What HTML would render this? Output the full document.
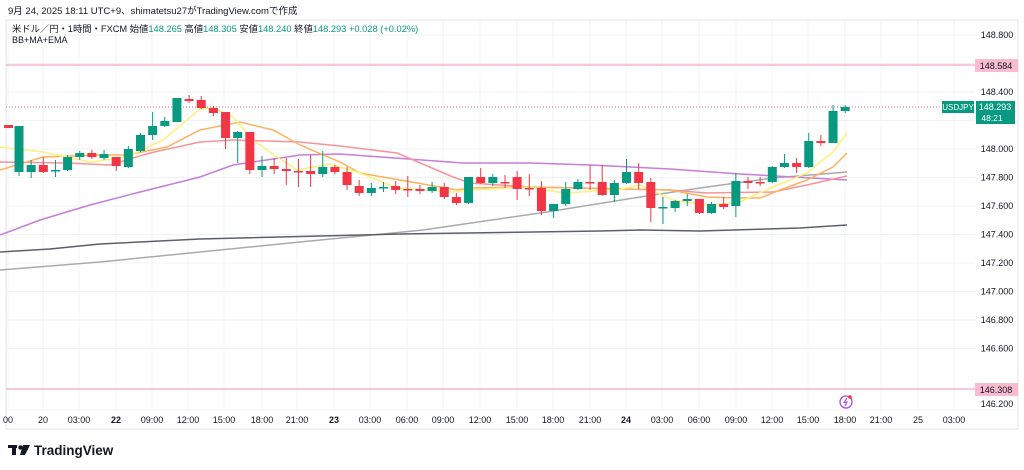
<!DOCTYPE html>
<html><head><meta charset="utf-8"><style>
body{margin:0;background:#fff;width:1024px;height:470px;overflow:hidden;font-family:"Liberation Sans","Noto Sans CJK JP",sans-serif}
svg{position:absolute;left:0;top:0}
</style></head><body>
<svg id="s" width="1024" height="470" xmlns="http://www.w3.org/2000/svg" font-family="Liberation Sans, Noto Sans CJK JP, sans-serif">
<rect x="6" y="20" width="1012" height="409" fill="none" stroke="#e6e6e6"/>
<g id="grid" stroke="#f0f3f6" stroke-width="1"></g>
<text x="8" y="14" font-size="9.5" fill="#131722">9月 24, 2025 18:11 UTC+9、shimatetsu27がTradingView.comで作成</text>
<text x="12" y="32" font-size="9.3" fill="#131722">米ドル／円・1時間・FXCM  始値<tspan fill="#089981">148.265</tspan>  高値<tspan fill="#089981">148.305</tspan>  安値<tspan fill="#089981">148.240</tspan>  終値<tspan fill="#089981">148.293</tspan>  <tspan fill="#089981">+0.028 (+0.02%)</tspan></text>
<text x="12" y="43" font-size="9" fill="#131722">BB+MA+EMA</text>
<line x1="6" y1="65" x2="975" y2="65" stroke="#f7a9bd" stroke-width="1.2"/>
<line x1="6" y1="389" x2="975" y2="389" stroke="#f7a9bd" stroke-width="1.2"/>
<line x1="6" y1="107" x2="975" y2="107" stroke="#c96b9a" stroke-width="1" stroke-dasharray="1,2"/>
<g id="lines" fill="none" stroke-width="1.5"></g>
<g id="candles"></g>
<g id="ylab" font-size="9" fill="#131722" text-anchor="middle"></g>
<rect x="975" y="59" width="43" height="13" fill="#f8bbd0"/>
<text x="996" y="69" font-size="9" text-anchor="middle" fill="#131722">148.584</text>
<rect x="975" y="383" width="43" height="13" fill="#f8bbd0"/>
<text x="996" y="393" font-size="9" text-anchor="middle" fill="#131722">146.308</text>
<rect x="942" y="101" width="32" height="12" fill="#089981"/>
<text x="958" y="110" font-size="8" text-anchor="middle" fill="#fff">USDJPY</text>
<rect x="976" y="101" width="39" height="23" fill="#089981"/>
<text x="995" y="110" font-size="9" text-anchor="middle" fill="#fff">148.293</text>
<text x="992" y="121" font-size="8.5" text-anchor="middle" fill="#fff">48:21</text>
<line x1="6" y1="410" x2="1018" y2="410" stroke="#f0f3f6"/>
<g id="xlab" font-size="9" fill="#131722" text-anchor="middle"></g>
<circle cx="846" cy="402" r="6" fill="none" stroke="#a64bd8" stroke-width="1.3"/>
<path d="M847 398 L844 402.5 L847 402 L845 406" fill="none" stroke="#a64bd8" stroke-width="1.1"/>
<circle cx="850" cy="397" r="1.8" fill="#f23645"/>
<g fill="#131722"><rect x="8" y="445" width="9" height="3"/><rect x="12" y="445" width="4" height="10"/><circle cx="20.5" cy="447.5" r="2.2"/><path d="M23 445 H30 L25 455 H20 Z"/></g>
<text x="34" y="455" font-size="13.5" font-weight="bold" fill="#131722">TradingView</text>
</svg>
<script>
const NS="http://www.w3.org/2000/svg";
function el(p,t,a,txt){const e=document.createElementNS(NS,t);for(const k in a)e.setAttribute(k,a[k]);if(txt!==undefined)e.textContent=txt;document.getElementById(p).appendChild(e);}
const xl=[[8,"00"],[43,"20"],[79,"03:00"],[116,"22"],[152,"09:00"],[188,"12:00"],[224,"15:00"],[262,"18:00"],[297,"21:00"],[334,"23"],[370,"03:00"],[407,"06:00"],[443,"09:00"],[480,"12:00"],[517,"15:00"],[553,"18:00"],[590,"21:00"],[626,"24"],[662,"03:00"],[699,"06:00"],[736,"09:00"],[772,"12:00"],[808,"15:00"],[845,"18:00"],[881,"21:00"],[918,"25"],[954,"03:00"]];
xl.forEach(([x,t])=>{el("grid","line",{x1:x,y1:20,x2:x,y2:410});el("xlab","text",{x:x,y:423,"font-weight":(["22","23","24"].includes(t)?"bold":"normal")},t);});
for(let i=0;i<12;i++){const p=148.8-i*0.2;const y=35+i*28.5;el("grid","line",{x1:6,y1:y,x2:975,y2:y});
 if(Math.abs(y-65)>8&&Math.abs(y-389)>8&&Math.abs(y-112)>12)el("ylab","text",{x:997,y:y+3},p.toFixed(3));}
el("ylab","text",{x:997,y:407},"146.200");
const L=[
["#aaaaaa",[[0,270],[100,262],[200,252],[300,242],[423,230],[547,212],[640,197],[707,187],[773,178],[847,172]]],
["#5d606b",[[0,252],[50,249],[100,244],[200,239],[400,234],[600,231],[640,230],[700,231],[800,228],[847,225]]],
["#c77ddb",[[0,235],[40,220],[90,205],[140,192],[200,177],[233,165],[300,155],[340,154],[463,163],[530,163],[590,165],[670,169],[740,174],[847,180]]],
["#f7949a",[[0,162],[67,163],[110,165],[150,153],[200,142],[233,140],[300,142],[340,146],[397,153],[453,177],[470,183],[530,187],[670,190],[707,193],[773,192],[807,185],[847,176]]],
["#ffb25e",[[0,170],[43,157],[100,155],[127,155],[167,147],[200,130],[240,122],[273,130],[300,145],[340,162],[360,173],[457,190],[470,188],[530,187],[670,190],[707,197],[737,198],[760,198],[780,190],[807,180],[833,167],[847,153]]],
["#fff07a",[[0,147],[43,152],[67,157],[90,162],[127,157],[163,140],[200,109],[213,108],[233,117],[253,140],[277,157],[297,170],[330,164],[360,173],[397,188],[453,192],[470,190],[530,187],[563,193],[617,190],[640,185],[673,200],[707,205],[737,203],[773,187],[807,173],[833,152],[847,133]]]];
L.forEach(([c,pts])=>el("lines","polyline",{stroke:c,points:pts.map(p=>p.join(",")).join(" ")}));
const C=[[172,126,126,176],[172,165,160,178],[165,172,157,173],[171,170,160,177],[170,157,155,171],[157,153,151,160],[153,157,150,159],[158,154,150,160],[157,166,157,171],[167,149,146,168],[151,135,133,152],[135,126,112,140],[126,121,117,127],[122,98,98,122],[99,101,95,103],[100,108,96,109],[108,113,106,116],[112,138,112,149],[138,132,131,163],[132,170,132,174],[170,166,156,177],[166,169,158,174],[169,171,158,185],[171,172,159,187],[171,174,155,187],[174,167,151,177],[167,172,165,174],[172,185,167,190],[186,193,180,196],[193,188,183,196],[188,187,182,192],[186,190,181,194],[189,189,176,197],[189,191,185,194],[191,187,182,193],[187,197,183,199],[197,203,193,205],[203,177,177,204],[177,183,168,184],[183,177,174,186],[182,182,175,188],[177,189,171,200],[188,188,174,196],[188,211,181,215],[211,204,204,218],[204,189,182,206],[189,182,179,190],[182,182,165,190],[182,195,165,196],[195,183,180,202],[183,172,159,184],[172,183,163,189],[182,208,178,222],[208,207,197,224],[208,201,200,212],[201,199,194,206],[199,213,199,214],[213,204,202,214],[204,207,197,209],[206,181,173,217],[181,183,177,189],[182,182,177,186],[182,167,166,183],[167,163,154,168],[163,167,158,173],[167,141,133,168],[141,143,135,146],[143,111,105,143],[111,107,105,113]];
el("candles","rect",{x:4,y:125,width:9,height:3,fill:"#f23645"});
C.forEach((c,i)=>{const x=19+i*12.15;const up=c[1]<c[0];const col=up?"#089981":"#f23645";
el("candles","line",{x1:x,x2:x,y1:c[2],y2:c[3],stroke:col,"stroke-width":1});
const t=Math.min(c[0],c[1]);const h=Math.max(1.5,Math.abs(c[0]-c[1]));
el("candles","rect",{x:x-4.5,y:t,width:9,height:h,fill:col});});
</script>
</body></html>
